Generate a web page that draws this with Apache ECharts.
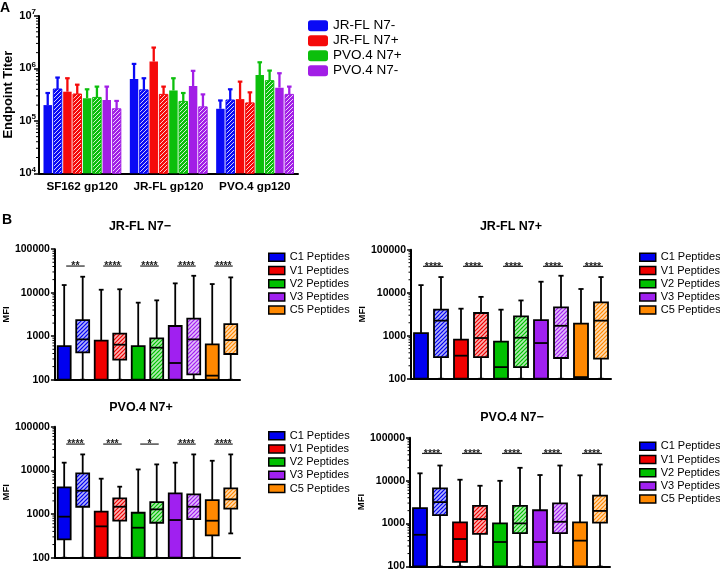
<!DOCTYPE html>
<html>
<head>
<meta charset="utf-8">
<script src="https://cdn.jsdelivr.net/npm/echarts@6.0.0/dist/echarts.min.js"></script>
<style>
  html, body { margin: 0; padding: 0; background: #fff; }
  #chart { width: 720px; height: 572px; }
</style>
</head>
<body>
<div id="chart"></div>
<script>
  const FONT = '"Liberation Sans", Arial, sans-serif';

  // ---------- panel A : endpoint titers ----------
  const titerGroups = ['SF162 gp120', 'JR-FL gp120', 'PVO.4 gp120'];
  const immunogens = ['JR-FL N7-', 'JR-FL N7+', 'PVO.4 N7+', 'PVO.4 N7-'];
  const immunogenColors = ['#0a0af5', '#f50a0a', '#0cbf0c', '#a21ee6'];
  // one row per immunogen, one value per gp120
  const titerSolid = [
    [2.0e5, 6.3e5, 1.7e5],
    [3.6e5, 1.35e6, 2.6e5],
    [2.7e5, 3.8e5, 7.5e5],
    [2.5e5, 4.6e5, 4.3e5]
  ];
  const titerSolidErr = [
    [3.4e5, 1.22e6, 2.45e5],
    [6.5e5, 2.5e6, 5.6e5],
    [4.0e5, 6.5e5, 1.31e6],
    [4.5e5, 9.0e5, 8.1e5]
  ];
  const titerHatched = [
    [4.05e5, 3.9e5, 2.5e5],
    [3.25e5, 3.2e5, 2.2e5],
    [2.8e5, 2.35e5, 5.85e5],
    [1.7e5, 1.85e5, 3.2e5]
  ];
  const titerHatchedErr = [
    [6.7e5, 6.5e5, 4.0e5],
    [4.9e5, 4.5e5, 3.5e5],
    [4.5e5, 3.4e5, 9.1e5],
    [2.4e5, 3.2e5, 4.5e5]
  ];

  // ---------- panel B : peptide MFI box plots ----------
  const peptides = ['C1 Peptides', 'V1 Peptides', 'V2 Peptides', 'V3 Peptides', 'C5 Peptides'];
  const peptideColors = ['#0000f0', '#f00000', '#00c000', '#a020f0', '#ff8800'];
  // order: C1, C1 hatched, V1, V1 hatched ... ; each [min, q1, median, q3, max]
  // 100 = at/below the axis bottom, null = median not visible
  const jrflMinusBoxes = [
    [100, 100, null, 594, 15000], [100, 425, 845, 2350, 23300],
    [100, 100, null, 790, 11700], [100, 288, 638, 1140, 12000],
    [100, 100, null, 594, 5900], [100, 100, 545, 893, 6670],
    [100, 100, 242, 1714, 16400], [100, 133, 845, 2530, 24500],
    [100, 100, 124, 650, 15800], [100, 390, 816, 1900, 22500]
  ];
  const jrflPlusBoxes = [
    [100, 100, null, 1150, 15000], [100, 319, 2240, 4030, 23100],
    [100, 100, 343, 807, 4250], [100, 319, 883, 3370, 8000],
    [100, 100, 186, 725, 4030], [100, 186, 898, 2800, 6600],
    [100, 100, 675, 2310, 18000], [100, 303, 1700, 4570, 24800],
    [100, 100, 109, 1900, 12200], [100, 292, 2240, 5960, 23100]
  ];
  const pvoPlusBoxes = [
    [100, 263, 870, 4070, 15000], [100, 1470, 3420, 8500, 23200],
    [100, 100, 522, 1130, 6450], [100, 703, 1470, 2280, 4230],
    [100, 100, 486, 1070, 10500], [100, 632, 1280, 1880, 13700],
    [100, 100, 729, 2970, 15000], [100, 767, 1470, 2820, 23200],
    [100, 325, 703, 2090, 16600], [360, 1325, 2170, 3870, 23200]
  ];
  const pvoMinusBoxes = [
    [100, 100, 548, 2300, 14800], [100, 1570, 3160, 6600, 22500],
    [100, 128, 436, 1067, 10500], [100, 577, 1270, 2570, 7600],
    [100, 100, 372, 1010, 9900], [100, 598, 1010, 2570, 19900],
    [100, 100, 372, 2040, 13500], [100, 598, 1100, 2950, 22500],
    [100, 100, 400, 1067, 13300], [100, 1050, 1970, 4490, 23800]
  ];
  const jrflMinusStars = ['**', '****', '****', '****', '****'];
  const jrflPlusStars = ['****', '****', '****', '****', '****'];
  const pvoPlusStars = ['****', '***', '*', '****', '****'];
  const pvoMinusStars = ['****', '****', '****', '****', '****'];
  const starLevels = [41000, 41000, 40000, 43000];

  const panelTitles = ['JR-FL N7\u2212', 'JR-FL N7+', 'PVO.4 N7+', 'PVO.4 N7\u2212'];
  const panelBoxes = [jrflMinusBoxes, jrflPlusBoxes, pvoPlusBoxes, pvoMinusBoxes];
  const panelStars = [jrflMinusStars, jrflPlusStars, pvoPlusStars, pvoMinusStars];

  // layout of the four box panels
  const boxGrids = [
    { left: 40, top: 249.2, width: 200, height: 130.5 },
    { left: 411, top: 249.7, width: 200, height: 129 },
    { left: 40, top: 426.7, width: 200, height: 131 },
    { left: 410, top: 437.7, width: 200, height: 131.3 }
  ];
  const boxLegendPos = [[268, 250.7], [639, 250.7], [268, 429.1], [639, 439.7]];
  const boxTitlePos = [[140, 227], [511, 227], [141, 408], [512, 418]];

  const minorMult = [2, 3, 4, 5, 6, 7, 8, 9];

  // diagonal "/" hatch used for the hatched bars / boxes
  function hatch(color, gap, lw, alpha) {
    const c = document.createElement('canvas');
    c.width = c.height = gap;
    const ctx = c.getContext('2d');
    ctx.fillStyle = color;
    ctx.fillRect(0, 0, gap, gap);
    ctx.strokeStyle = 'rgba(255,255,255,' + alpha + ')';
    ctx.lineWidth = lw;
    ctx.beginPath();
    ctx.moveTo(-1, gap + 1); ctx.lineTo(gap + 1, -1);
    ctx.moveTo(-1, 1); ctx.lineTo(1, -1);
    ctx.moveTo(gap - 1, gap + 1); ctx.lineTo(gap + 1, gap - 1);
    ctx.stroke();
    return { image: c, repeat: 'repeat' };
  }

  const lineEl = (x1, y1, x2, y2, style) => ({ type: 'line', shape: { x1, y1, x2, y2 }, style });

  function renderTiter(color, hatchFill) {
    return function (params, api) {
      const cat = api.value(0), slot = api.value(3);
      const band = api.size([1, 1])[0];
      const pitch = band * 0.114;
      const w = pitch * 0.86;
      const p = api.coord([cat, api.value(1)]);
      const cx = p[0] + (slot - 3.5) * pitch;
      const yTop = p[1];
      const yErr = api.coord([cat, api.value(2)])[1];
      const yBase = params.coordSys.y + params.coordSys.height;
      const hatched = slot % 2 === 1;
      return {
        type: 'group',
        children: [
          lineEl(cx, yTop, cx, yErr, { stroke: color, lineWidth: 2.3 }),
          lineEl(cx - 2.3, yErr, cx + 2.3, yErr, { stroke: color, lineWidth: 2.2 }),
          {
            type: 'rect',
            shape: { x: cx - w / 2, y: yTop, width: w, height: yBase - yTop },
            style: { fill: hatched ? hatchFill : color, stroke: hatched ? color : null, lineWidth: 1 }
          }
        ]
      };
    };
  }

  function renderBox(hatchFill, color) {
    return function (params, api) {
      const xi = api.value(0);
      const band = api.size([1, 1])[0];
      const w = band * 0.7, cap = band * 0.26;
      const cx = api.coord([xi, 1000])[0];
      const Y = v => api.coord([xi, v])[1];
      const lo = api.value(1), q1 = api.value(2), med = api.value(3), q3 = api.value(4), hi = api.value(5);
      const hatched = xi % 2 === 1;
      const ink = { stroke: '#000', lineWidth: 1.8 };
      const kids = [
        lineEl(cx, Y(q3), cx, Y(hi), ink),
        lineEl(cx - cap / 2, Y(hi), cx + cap / 2, Y(hi), ink),
        lineEl(cx, Y(q1), cx, Y(lo), ink),
        lineEl(cx - cap / 2, Y(lo), cx + cap / 2, Y(lo), ink),
        {
          type: 'rect',
          shape: { x: cx - w / 2, y: Y(q3), width: w, height: Y(q1) - Y(q3) },
          style: { fill: hatched ? hatchFill : color, stroke: '#000', lineWidth: 1.8 }
        }
      ];
      if (med > 0) kids.push(lineEl(cx - w / 2, Y(med), cx + w / 2, Y(med), ink));
      return { type: 'group', children: kids };
    };
  }

  function renderMinor(len) {
    return function (params, api) {
      const y = api.coord([0, api.value(1)])[1];
      const x = params.coordSys.x;
      return lineEl(x - len, y, x, y, { stroke: '#000', lineWidth: 1 });
    };
  }

  function renderStars(labels, level) {
    return function (params, api) {
      const i = params.dataIndex;
      const x1 = api.coord([2 * i, level])[0] + 2;
      const x2 = api.coord([2 * i + 1, level])[0] + 2;
      const y = api.coord([2 * i, level])[1];
      return {
        type: 'group',
        children: [
          lineEl(x1, y, x2, y, { stroke: '#222', lineWidth: 1.2 }),
          {
            type: 'text',
            x: (x1 + x2) / 2, y: y - 5,
            style: {
              text: labels[i], fill: '#222', align: 'center', verticalAlign: 'top',
              font: 'bold 10.5px ' + FONT
            }
          }
        ]
      };
    };
  }

  const axisInk = { color: '#000', width: 2 };

  const grid = [{ left: 39, top: 16, width: 259, height: 157.3 }].concat(boxGrids);

  const xAxis = [{
    gridIndex: 0, type: 'category', data: titerGroups,
    axisLine: { lineStyle: axisInk },
    axisTick: { alignWithLabel: true, length: 3, lineStyle: { color: '#000', width: 1.5 } },
    axisLabel: {
      color: '#000', fontWeight: 'bold', fontSize: 11.7, fontFamily: FONT, margin: 7,
      interval: 0, hideOverlap: false
    }
  }];
  const yAxis = [{
    gridIndex: 0, type: 'log', logBase: 10, min: 1e4, max: 1e7,
    name: 'Endpoint Titer', nameLocation: 'middle', nameGap: 22,
    nameTextStyle: { color: '#000', fontWeight: 'bold', fontSize: 13, fontFamily: FONT },
    axisLine: { show: true, lineStyle: axisInk },
    axisTick: { show: true, length: 5, lineStyle: { color: '#000', width: 1.5 } },
    splitLine: { show: false },
    axisLabel: {
      margin: 3,
      formatter: v => '{b|10}{s|' + Math.round(Math.log10(v)) + '}',
      rich: {
        b: { fontSize: 11, fontWeight: 'bold', fontFamily: FONT, color: '#000', lineHeight: 16 },
        s: { fontSize: 8, fontWeight: 'bold', fontFamily: FONT, color: '#000', lineHeight: 8, verticalAlign: 'top' }
      }
    }
  }];

  boxGrids.forEach((g, i) => {
    xAxis.push({
      gridIndex: i + 1, type: 'category', data: ['0', '1', '2', '3', '4', '5', '6', '7', '8', '9'],
      axisLine: { lineStyle: axisInk }, axisTick: { show: false }, axisLabel: { show: false }
    });
    yAxis.push({
      gridIndex: i + 1, type: 'log', logBase: 10, min: 100, max: 100000,
      name: 'MFI', nameLocation: 'middle', nameGap: 30,
      nameTextStyle: { color: '#000', fontWeight: 'bold', fontSize: 9.5, fontFamily: FONT },
      axisLine: { show: true, lineStyle: axisInk },
      axisTick: { show: true, length: 4, lineStyle: { color: '#000', width: 1.5 } },
      splitLine: { show: false },
      axisLabel: {
        margin: 5, color: '#000', fontWeight: 'bold', fontSize: 10.5, fontFamily: FONT,
        formatter: v => String(Math.round(v))
      }
    });
  });

  const series = [];

  immunogens.forEach((name, s) => {
    const data = [];
    titerGroups.forEach((g, c) => {
      data.push([c, titerSolid[s][c], titerSolidErr[s][c], 2 * s]);
      data.push([c, titerHatched[s][c], titerHatchedErr[s][c], 2 * s + 1]);
    });
    series.push({
      type: 'custom', name, xAxisIndex: 0, yAxisIndex: 0,
      itemStyle: { color: immunogenColors[s] },
      encode: { x: 0, y: [1, 2] },
      renderItem: renderTiter(immunogenColors[s], hatch(immunogenColors[s], 4, 1, 0.8)),
      data
    });
  });

  const minorA = [];
  [1e4, 1e5, 1e6].forEach(d => minorMult.forEach(m => minorA.push([0, d * m])));
  series.push({
    type: 'custom', name: 'minorA', xAxisIndex: 0, yAxisIndex: 0, silent: true,
    encode: { x: 0, y: 1 }, renderItem: renderMinor(3), data: minorA
  });

  const minorB = [];
  [100, 1000, 10000].forEach(d => minorMult.forEach(m => minorB.push([0, d * m])));

  panelBoxes.forEach((boxes, pi) => {
    const gi = pi + 1;
    peptides.forEach((name, k) => {
      const data = [0, 1].map(h => {
        const b = boxes[2 * k + h];
        return [2 * k + h, b[0], b[1], b[2] == null ? -1 : b[2], b[3], b[4]];
      });
      series.push({
        type: 'custom', name, xAxisIndex: gi, yAxisIndex: gi,
        itemStyle: { color: peptideColors[k], borderColor: '#000', borderWidth: 1.5 },
        encode: { x: 0, y: [1, 5] },
        renderItem: renderBox(hatch(peptideColors[k], 4, 1.6, 0.7), peptideColors[k]),
        data
      });
    });
    series.push({
      type: 'custom', name: 'stars' + gi, xAxisIndex: gi, yAxisIndex: gi, silent: true,
      encode: { x: 0, y: 1 },
      renderItem: renderStars(panelStars[pi], starLevels[pi]),
      data: panelStars[pi].map((s, i) => [2 * i, starLevels[pi]])
    });
    series.push({
      type: 'custom', name: 'minor' + gi, xAxisIndex: gi, yAxisIndex: gi, silent: true,
      encode: { x: 0, y: 1 }, renderItem: renderMinor(2.5), data: minorB
    });
  });

  const legend = [{
    left: 308, top: 18.2, orient: 'vertical', padding: 0, itemGap: 0,
    icon: 'roundRect', itemWidth: 20, itemHeight: 11,
    textStyle: { color: '#000', fontSize: 13.5, fontFamily: FONT, lineHeight: 15 },
    data: immunogens.map((n, i) => ({ name: n, itemStyle: { color: immunogenColors[i] } })),
    selectedMode: false
  }];
  boxLegendPos.forEach(pos => {
    legend.push({
      left: pos[0], top: pos[1], orient: 'vertical', padding: 0, itemGap: 0,
      icon: 'rect', itemWidth: 16, itemHeight: 8,
      itemStyle: { borderColor: '#000', borderWidth: 1.5 },
      textStyle: { color: '#000', fontSize: 11, fontFamily: FONT, lineHeight: 13.2 },
      data: peptides.map((n, i) => ({ name: n, itemStyle: { color: peptideColors[i], borderColor: '#000', borderWidth: 1.5 } })),
      selectedMode: false
    });
  });

  const graphicEls = [
    { type: 'text', x: 0, y: 1, style: { text: 'A', fill: '#000', font: 'bold 14px ' + FONT, verticalAlign: 'top' } },
    { type: 'text', x: 2, y: 213, style: { text: 'B', fill: '#000', font: 'bold 14px ' + FONT, verticalAlign: 'top' } }
  ];
  boxTitlePos.forEach((p, i) => {
    graphicEls.push({
      type: 'text', x: p[0], y: p[1],
      style: { text: panelTitles[i], fill: '#000', font: 'bold 12.5px ' + FONT, align: 'center', verticalAlign: 'middle' }
    });
  });

  const chart = echarts.init(document.getElementById('chart'));
  chart.setOption({
    animation: false,
    backgroundColor: '#fff',
    grid, xAxis, yAxis, legend, series,
    graphic: { elements: graphicEls }
  });
</script>
</body>
</html>
